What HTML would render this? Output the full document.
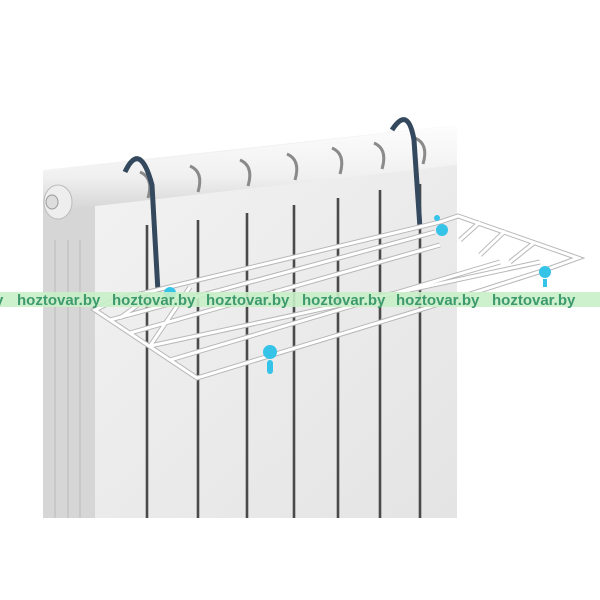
<!DOCTYPE html>
<html><head><meta charset="utf-8"><style>
html,body{margin:0;padding:0;background:#fff;width:600px;height:600px;overflow:hidden}
svg{display:block}
</style></head><body>
<svg width="600" height="600" viewBox="0 0 600 600" xmlns="http://www.w3.org/2000/svg">
<defs>
<linearGradient id="rad" x1="0" y1="0" x2="1" y2="1">
<stop offset="0" stop-color="#f4f4f4"/><stop offset="1" stop-color="#e4e4e4"/>
</linearGradient>
<linearGradient id="top" x1="0" y1="0" x2="0" y2="1">
<stop offset="0" stop-color="#fdfdfd"/><stop offset="0.6" stop-color="#f0f0f0"/><stop offset="1" stop-color="#d4d4d4"/>
</linearGradient>
</defs>
<polygon points="43,170 457,125 457,518 43,518" fill="url(#rad)"/>
<rect x="43" y="200" width="52" height="318" fill="#d6d6d6"/>
<g stroke="#c4c4c4" stroke-width="1.5"><line x1="55" y1="240" x2="55" y2="518"/><line x1="68" y1="240" x2="68" y2="518"/><line x1="80" y1="240" x2="80" y2="518"/></g>
<g stroke="#4a4a4a" stroke-width="2.6">
<line x1="147" y1="225" x2="147" y2="518"/>
<line x1="198" y1="220" x2="198" y2="518"/>
<line x1="247" y1="213" x2="247" y2="518"/>
<line x1="294" y1="205" x2="294" y2="518"/>
<line x1="338" y1="198" x2="338" y2="518"/>
<line x1="380" y1="190" x2="380" y2="518"/>
<line x1="420" y1="184" x2="420" y2="518"/>
</g>
<polygon points="43,172 457,125 457,165 43,212" fill="url(#top)"/>
<g fill="none" stroke="#8a8a8a" stroke-width="3">
<path d="M140,172 q14,6 8,26"/><path d="M190,166 q14,6 8,26"/><path d="M240,160 q14,6 8,26"/>
<path d="M287,154 q14,6 8,26"/><path d="M332,148 q14,6 8,26"/><path d="M374,143 q14,6 8,26"/><path d="M415,138 q14,6 8,26"/>
</g>
<ellipse cx="58" cy="202" rx="14" ry="17" fill="#eee" stroke="#bbb"/>
<ellipse cx="52" cy="202" rx="6" ry="7" fill="#ddd" stroke="#999"/>
<path d="M125,172 Q140,140 152,185 L158,292" fill="none" stroke="#34495e" stroke-width="5"/>
<path d="M392,130 Q408,105 414,140 L420,228" fill="none" stroke="#34495e" stroke-width="5"/>
<g id="rk" fill="none">
<path d="M95,310 L197,378 L420,310 L545,270 L578,258 L458,216 L440,222 L115,300 Z"/>
<line x1="110" y1="320" x2="435" y2="232"/>
<line x1="130" y1="333" x2="440" y2="245"/>
<line x1="150" y1="346" x2="540" y2="262"/>
<line x1="170" y1="360" x2="500" y2="262"/>
<line x1="150" y1="296" x2="120" y2="318"/>
<line x1="190" y1="287" x2="150" y2="346"/>
<line x1="480" y1="222" x2="460" y2="240"/>
<line x1="505" y1="231" x2="480" y2="255"/>
<line x1="535" y1="242" x2="510" y2="262"/>
</g>
<use href="#rk" stroke="#b8b8b8" stroke-width="5"/>
<use href="#rk" stroke="#fff" stroke-width="3"/>
<g fill="#36c3e8">
<circle cx="270" cy="352" r="7"/><rect x="267" y="360" width="6" height="14" rx="3"/>
<circle cx="442" cy="230" r="6"/><circle cx="437" cy="218" r="3"/>
<circle cx="545" cy="272" r="6"/><rect x="543" y="279" width="4" height="8"/>
<circle cx="170" cy="293" r="6"/>
</g>
<rect x="0" y="292" width="600" height="15" fill="#c6efc6" opacity="0.9"/>
<g font-family="Liberation Sans, sans-serif" font-weight="bold" font-size="15" fill="#3e9a6e">
<text x="-5" y="305">y</text>
<text x="17" y="305">hoztovar.by</text>
<text x="112" y="305">hoztovar.by</text>
<text x="206" y="305">hoztovar.by</text>
<text x="302" y="305">hoztovar.by</text>
<text x="396" y="305">hoztovar.by</text>
<text x="492" y="305">hoztovar.by</text>
</g>
</svg>
</body></html>
